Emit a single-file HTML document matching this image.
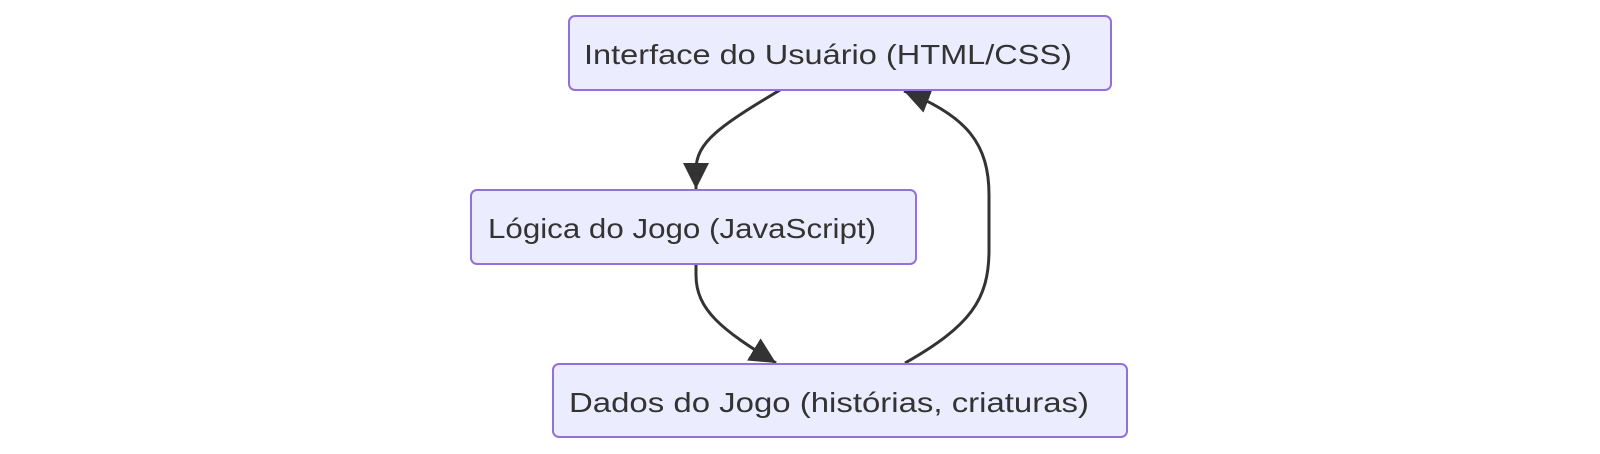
<!DOCTYPE html>
<html><head><meta charset="utf-8"><style>html,body{margin:0;padding:0;background:#fff;}svg{display:block}</style></head>
<body>
<svg width="1600" height="454" viewBox="0 0 1600 454" xmlns="http://www.w3.org/2000/svg">
<defs>
<marker id="a" viewBox="0 0 10 10" refX="10" refY="5" markerUnits="userSpaceOnUse" markerWidth="26" markerHeight="26" orient="auto">
<path d="M0,0 L10,5 L0,10 z" fill="#333"/>
</marker>
</defs>
<g fill="none" stroke="#333" stroke-width="3">
<path d="M780,90 C720,126 696,142 696,170 L696,189" marker-end="url(#a)"/>
<path d="M696,264 L696,275 C696,310 722,330 776,363" marker-end="url(#a)"/>
<path d="M905,363 C970,326 989,300 989,250 L989,195 C989,145 968,116 904,91" marker-end="url(#a)"/>
</g>
<g fill="#ECECFF" stroke="#9370DB" stroke-width="2">
<rect x="569" y="16" width="542" height="74" rx="6"/>
<rect x="471" y="190" width="445" height="74" rx="6"/>
<rect x="553" y="364" width="574" height="73" rx="6"/>
</g>
<g font-family="Liberation Sans, sans-serif" font-size="28" fill="#333">
<text x="584" y="64" textLength="488" lengthAdjust="spacingAndGlyphs">Interface do Usuário (HTML/CSS)</text>
<text x="488" y="238" textLength="388" lengthAdjust="spacingAndGlyphs">Lógica do Jogo (JavaScript)</text>
<text x="569" y="412" textLength="520" lengthAdjust="spacingAndGlyphs">Dados do Jogo (histórias, criaturas)</text>
</g>
</svg>
</body></html>
